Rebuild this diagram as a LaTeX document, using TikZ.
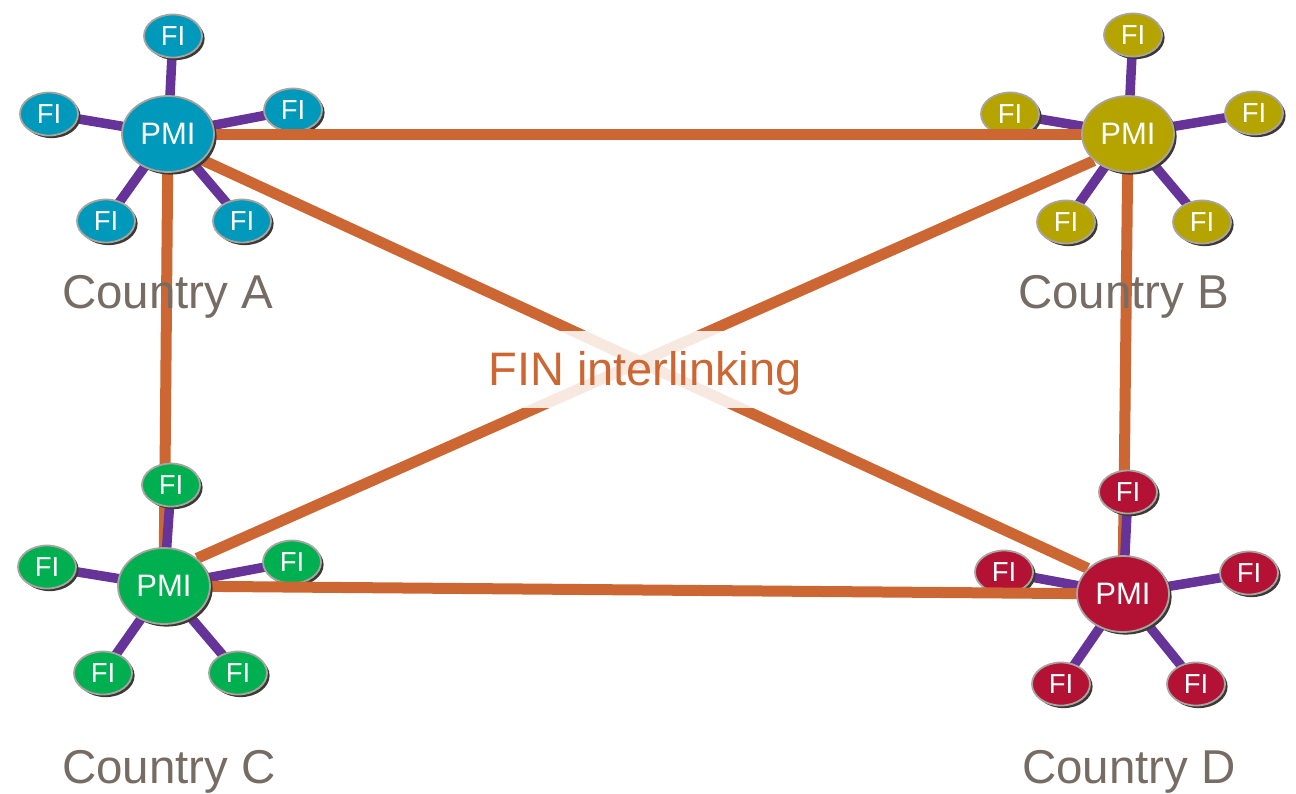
\documentclass[tikz,border=0pt]{standalone}
\usepackage{fontspec}
\setmainfont{Liberation Sans}
\usetikzlibrary{shapes.geometric,shadows}

\definecolor{linkc}{HTML}{CC6633}
\definecolor{spokec}{HTML}{663399}
\definecolor{countryc}{HTML}{766C64}
\definecolor{bubedge}{HTML}{A8A4A0}
\definecolor{bubshadow}{HTML}{3C3835}
\definecolor{ccA}{HTML}{0099BB}
\definecolor{ccB}{HTML}{B5A300}
\definecolor{ccC}{HTML}{00B050}
\definecolor{ccD}{HTML}{B41234}

\pgfdeclarelayer{vlines}
\pgfdeclarelayer{spokes}
\pgfdeclarelayer{fis}
\pgfdeclarelayer{hlines}
\pgfdeclarelayer{label}
\pgfsetlayers{vlines,spokes,fis,hlines,label,main}

\begin{document}
\begin{tikzpicture}[x=1pt,y=-1pt,
  bub/.style={ellipse, draw=bubedge, line width=1.8pt, inner sep=0pt, text=white,
    drop shadow={shadow xshift=2.6pt, shadow yshift=-2.6pt, fill=bubshadow, opacity=1}},
  pmi/.style={bub, minimum width=92pt, minimum height=76pt, font=\fontsize{31}{31}\selectfont},
  fi/.style={bub, minimum width=58pt, minimum height=43pt, font=\fontsize{27.5}{27.5}\selectfont},
  spoke/.style={draw=spokec, line width=9.5pt},
  link/.style={draw=linkc, line width=11pt},
  country/.style={text=countryc, font=\fontsize{47.5}{47.5}\selectfont, anchor=base west, inner sep=0pt}]

\useasboundingbox (0,0) rectangle (1296,793);

% hubs of the four countries
\node[pmi, fill=ccA] (pa) at (168,134) {PMI};
\node[pmi, fill=ccB] (pb) at (1128,134) {PMI};
\node[pmi, fill=ccC] (pc) at (164,586) {PMI};
\node[pmi, fill=ccD] (pd) at (1123,594) {PMI};

% member institutions around each hub
\begin{pgfonlayer}{fis}
\foreach \n/\x/\y in {fa1/173/36, fa2/49/114, fa3/293/110, fa4/106/221, fa5/242/221}
  \node[fi, fill=ccA] (\n) at (\x,\y) {FI};
\foreach \n/\x/\y in {fb1/1133/35, fb2/1010/114, fb3/1254/113, fb4/1066/222, fb5/1202/222}
  \node[fi, fill=ccB] (\n) at (\x,\y) {FI};
\foreach \n/\x/\y in {fc1/171/485, fc2/47/567, fc3/292/562, fc4/103/673, fc5/238/673}
  \node[fi, fill=ccC] (\n) at (\x,\y) {FI};
\foreach \n/\x/\y in {fd1/1128/492, fd2/1004/572, fd3/1249/573, fd4/1061/684, fd5/1196/684}
  \node[fi, fill=ccD] (\n) at (\x,\y) {FI};
\end{pgfonlayer}

% spokes from hubs to institutions
\begin{pgfonlayer}{spokes}
\foreach \h/\s in {pa/fa, pb/fb, pc/fc, pd/fd}
  \foreach \i in {1,...,5}
    \draw[spoke] (\h.center) -- (\s\i.center);
\end{pgfonlayer}

% vertical links between hubs
\begin{pgfonlayer}{vlines}
\draw[link] (pa.center) -- (pc.center);
\draw[link] (pb.center) -- (pd.center);
\end{pgfonlayer}

% horizontal and diagonal links
\begin{pgfonlayer}{hlines}
\draw[link] (pa.center) -- (pb.center);
\draw[link] (pc.center) -- (pd.center);
\draw[link] (pa.-37) -- (pd.144);
\draw[link] (pc.40) -- (pb.-142);
\end{pgfonlayer}

\begin{pgfonlayer}{label}
\node[anchor=base, fill=white, fill opacity=0.85, text opacity=1, text=linkc,
      font=\fontsize{47}{47}\selectfont, text height=37pt, text depth=6pt,
      inner xsep=6pt, inner ysep=17pt] (fin) at (645,385) {FIN interlinking};
\end{pgfonlayer}

% country captions
\node[country] (ca) at (62,308) {Country A};
\node[country] (cb) at (1018,308) {Country B};
\node[country] (cc) at (62,783) {Country C};
\node[country] (cd) at (1022,783) {Country D};

\end{tikzpicture}
\end{document}
